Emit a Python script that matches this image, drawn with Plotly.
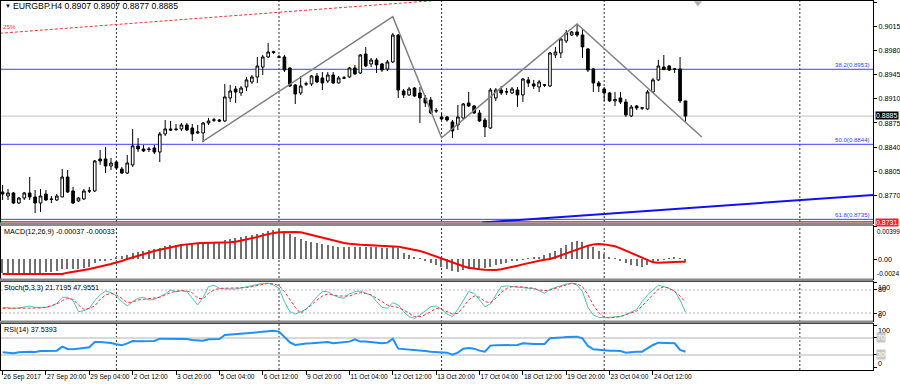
import plotly.graph_objects as go

W, H = 900, 384

symbol = "EURGBP.H4"

open_ = [0.87747,0.87689,0.87733,0.87587,0.87660,0.87733,0.87675,0.87587,0.87718,0.87646,
0.87631,0.87675,0.87965,0.87762,0.87617,0.87646,0.87760,0.87762,0.88227,0.88227,
0.88125,0.88183,0.88081,0.88023,0.88140,0.88416,0.88372,0.88365,0.88387,0.88328,
0.88590,0.88663,0.88655,0.88663,0.88721,0.88677,0.88605,0.88605,0.88750,0.88790,
0.88793,0.88779,0.89113,0.89244,0.89186,0.89273,0.89346,0.89418,0.89563,0.89709,
0.89785,0.89712,0.89709,0.89549,0.89302,0.89186,0.89320,0.89317,0.89433,0.89404,
0.89360,0.89447,0.89331,0.89400,0.89418,0.89549,0.89476,0.89752,0.89607,0.89665,
0.89607,0.89534,0.89636,0.90028,0.89215,0.89157,0.89258,0.89186,0.89113,0.89084,
0.88930,0.88837,0.88837,0.88764,0.88721,0.88822,0.89041,0.88997,0.88895,0.88793,
0.88677,0.89113,0.89229,0.89205,0.89186,0.89229,0.89157,0.89375,0.89317,0.89273,
0.89305,0.89287,0.89738,0.89767,0.89941,0.90028,0.90072,0.90028,0.89825,0.89534,
0.89331,0.89244,0.89186,0.89070,0.89113,0.89055,0.88852,0.88997,0.88965,0.88953,
0.89200,0.89375,0.89563,0.89578,0.89530,0.89534,0.8907]
high = [0.87849,0.87791,0.87747,0.87675,0.87747,0.87965,0.87776,0.87791,0.87776,0.87689,
0.87718,0.88081,0.88067,0.87820,0.87675,0.87791,0.87820,0.88212,0.88358,0.88401,
0.88241,0.88198,0.88111,0.88285,0.88663,0.88532,0.88430,0.88401,0.88430,0.88619,
0.88793,0.88779,0.88735,0.88750,0.88750,0.88735,0.88721,0.88764,0.88822,0.88822,
0.88808,0.89317,0.89302,0.89287,0.89287,0.89418,0.89447,0.89709,0.89738,0.89912,
0.89800,0.89738,0.89738,0.89555,0.89317,0.89433,0.89350,0.89447,0.89476,0.89491,
0.89491,0.89491,0.89433,0.89433,0.89563,0.89593,0.89752,0.89854,0.89694,0.89694,
0.89622,0.89665,0.90058,0.90043,0.89244,0.89273,0.89273,0.89273,0.89157,0.89128,
0.88968,0.88895,0.88852,0.88793,0.89011,0.89041,0.89200,0.89011,0.88939,0.88822,
0.89258,0.89258,0.89287,0.89258,0.89273,0.89273,0.89404,0.89418,0.89375,0.89375,
0.89317,0.89781,0.89854,0.89985,0.90101,0.90087,0.90188,0.90116,0.89840,0.89549,
0.89360,0.89273,0.89200,0.89200,0.89200,0.89099,0.89011,0.89011,0.88982,0.89229,
0.89404,0.89665,0.89738,0.89593,0.89549,0.89709,0.8907]
low = [0.87631,0.87631,0.87573,0.87573,0.87631,0.87631,0.87442,0.87457,0.87617,0.87587,
0.87617,0.87670,0.87733,0.87573,0.87602,0.87631,0.87733,0.87747,0.88140,0.88023,
0.88067,0.88067,0.88009,0.88009,0.88111,0.88328,0.88328,0.88328,0.88299,0.88183,
0.88561,0.88634,0.88634,0.88634,0.88634,0.88488,0.88590,0.88474,0.88721,0.88764,
0.88764,0.88764,0.89055,0.89041,0.89142,0.89215,0.89317,0.89331,0.89447,0.89694,
0.89752,0.89690,0.89491,0.89273,0.89026,0.89157,0.89287,0.89287,0.89331,0.89229,
0.89331,0.89317,0.89324,0.89389,0.89404,0.89447,0.89462,0.89563,0.89563,0.89476,
0.89491,0.89505,0.89622,0.89113,0.89113,0.89142,0.89128,0.88750,0.88982,0.88881,
0.88895,0.88793,0.88769,0.88532,0.88648,0.88793,0.88982,0.88881,0.88764,0.88546,
0.88663,0.89070,0.89157,0.89157,0.89171,0.88982,0.89055,0.89273,0.89244,0.89200,
0.89273,0.89273,0.89694,0.89694,0.89912,0.90014,0.90000,0.89694,0.89491,0.89200,
0.89200,0.89070,0.89055,0.88997,0.89026,0.88837,0.88837,0.88939,0.88939,0.88939,
0.89186,0.89360,0.89520,0.89505,0.89476,0.89041,0.8877]
close = [0.87718,0.87733,0.87587,0.87660,0.87733,0.87675,0.87587,0.87689,0.87631,0.87640,
0.87689,0.87965,0.87747,0.87587,0.87660,0.87762,0.87765,0.88198,0.88198,0.88125,
0.88169,0.88096,0.88023,0.88169,0.88416,0.88372,0.88343,0.88370,0.88328,0.88590,
0.88663,0.88648,0.88660,0.88721,0.88648,0.88590,0.88619,0.88750,0.88779,0.88795,
0.88779,0.89128,0.89215,0.89200,0.89258,0.89375,0.89418,0.89578,0.89709,0.89781,
0.89775,0.89705,0.89520,0.89287,0.89171,0.89287,0.89315,0.89433,0.89346,0.89331,
0.89447,0.89331,0.89404,0.89406,0.89549,0.89462,0.89738,0.89578,0.89665,0.89593,
0.89520,0.89636,0.90028,0.89229,0.89157,0.89244,0.89142,0.89113,0.89041,0.88895,
0.88925,0.88808,0.88793,0.88634,0.88837,0.89026,0.88997,0.88895,0.88779,0.88692,
0.89229,0.89229,0.89186,0.89200,0.89244,0.89157,0.89389,0.89331,0.89287,0.89346,
0.89300,0.89767,0.89781,0.89970,0.90058,0.90072,0.90028,0.89854,0.89520,0.89331,
0.89287,0.89186,0.89070,0.89092,0.89055,0.88866,0.88982,0.88968,0.88970,0.89200,
0.89375,0.89578,0.89525,0.89520,0.89535,0.89070,0.8885]

macd_main = [-0.00176,-0.00176,-0.00180,-0.00180,-0.00176,-0.00168,-0.00172,-0.00168,-0.00160,-0.00156,
-0.00148,-0.00127,-0.00123,-0.00127,-0.00119,-0.00107,-0.00094,-0.00053,-0.00029,-0.00016,
-0.00004,0.00016,0.00037,0.00049,0.00078,0.00090,0.00103,0.00111,0.00119,0.00135,
0.00156,0.00168,0.00176,0.00180,0.00185,0.00185,0.00185,0.00193,0.00201,0.00205,
0.00213,0.00234,0.00250,0.00262,0.00275,0.00283,0.00295,0.00308,0.00324,0.00344,
0.00361,0.00369,0.00344,0.00308,0.00267,0.00242,0.00226,0.00209,0.00193,0.00185,
0.00172,0.00160,0.00152,0.00148,0.00144,0.00144,0.00148,0.00152,0.00148,0.00144,
0.00139,0.00139,0.00152,0.00131,0.00078,0.00049,0.00021,0.00002,-0.00029,-0.00045,
-0.00074,-0.00094,-0.00119,-0.00144,-0.00156,-0.00135,-0.00127,-0.00123,-0.00119,-0.00115,
-0.00094,-0.00078,-0.00062,-0.00045,-0.00029,-0.00016,-0.00004,0.00008,0.00021,0.00029,
0.00045,0.00070,0.00098,0.00135,0.00176,0.00209,0.00226,0.00209,0.00176,0.00144,
0.00103,0.00062,0.00021,0.00001,-0.00029,-0.00045,-0.00070,-0.00086,-0.00094,-0.00078,
-0.00053,-0.00021,-0.00004,0.00008,0.00016,0.00001,-0.00037]
macd_signal = [-0.00185,-0.00185,-0.00185,-0.00189,-0.00189,-0.00189,-0.00189,-0.00189,-0.00189,-0.00189,
-0.00189,-0.00185,-0.00168,-0.00160,-0.00148,-0.00135,-0.00123,-0.00111,-0.00094,-0.00078,
-0.00062,-0.00045,-0.00025,0.00000,0.00021,0.00041,0.00062,0.00082,0.00098,0.00115,
0.00131,0.00144,0.00160,0.00172,0.00180,0.00189,0.00193,0.00197,0.00197,0.00201,
0.00201,0.00205,0.00205,0.00213,0.00226,0.00238,0.00254,0.00271,0.00291,0.00308,
0.00320,0.00328,0.00332,0.00332,0.00332,0.00328,0.00312,0.00291,0.00275,0.00258,
0.00242,0.00230,0.00209,0.00197,0.00189,0.00180,0.00176,0.00172,0.00168,0.00168,
0.00164,0.00160,0.00156,0.00152,0.00139,0.00127,0.00119,0.00098,0.00078,0.00053,
0.00029,0.00008,-0.00016,-0.00041,-0.00066,-0.00090,-0.00107,-0.00119,-0.00127,-0.00131,
-0.00135,-0.00135,-0.00127,-0.00115,-0.00098,-0.00082,-0.00066,-0.00049,-0.00037,-0.00021,
-0.00008,0.00000,0.00021,0.00045,0.00070,0.00094,0.00119,0.00144,0.00164,0.00180,
0.00185,0.00180,0.00172,0.00156,0.00131,0.00103,0.00074,0.00045,0.00012,-0.00012,
-0.00041,-0.00045,-0.00045,-0.00041,-0.00037,-0.00035,-0.00033]

stoch_k = [34.8,33.0,32.2,33.0,36.5,38.3,34.8,34.8,34.8,38.3,
45.2,60.9,60.9,52.2,23.5,26.1,32.2,52.2,67.0,77.4,
73.0,64.3,49.6,38.3,49.6,58.3,60.9,53.9,55.7,62.6,
69.6,80.0,75.7,78.3,75.7,58.3,40.9,60.9,88.7,92.2,
84.3,82.6,82.6,82.6,85.2,88.7,91.3,94.8,97.4,97.4,
93.0,84.3,49.6,23.5,17.4,23.5,29.6,45.2,62.6,75.7,
75.7,67.0,60.9,58.3,69.6,75.7,77.4,71.3,67.0,49.6,
34.8,32.2,47.0,40.9,23.5,10.4,6.1,14.8,26.1,36.5,
38.3,29.6,17.4,10.4,29.6,53.9,75.7,71.3,53.9,36.5,
43.5,67.0,88.7,90.4,89.6,88.7,86.1,84.3,84.3,78.3,
71.3,81.7,87.0,92.2,95.7,97.4,93.0,75.7,34.8,14.8,
8.7,7.8,8.7,9.6,11.3,15.7,22.6,29.6,49.6,67.0,
80.0,92.2,88.7,84.3,77.4,53.9,21.7195]
stoch_d = [32.2,32.2,31.3,31.3,32.2,32.2,32.2,33.0,34.8,38.3,
43.5,52.2,58.3,55.7,40.9,29.6,32.2,38.3,55.7,67.0,
71.3,67.0,58.3,47.0,48.7,53.9,55.7,55.7,57.4,60.9,
67.0,73.0,76.5,78.3,77.4,73.0,58.3,57.4,71.3,80.0,
84.3,84.3,84.3,84.3,84.3,86.1,88.7,92.2,95.7,97.4,
95.7,91.3,75.7,53.9,34.8,19.1,29.6,40.9,53.9,64.3,
69.6,67.0,64.3,64.3,64.3,69.6,73.0,71.3,67.0,58.3,
49.6,40.9,36.5,34.8,27.8,19.1,10.4,10.4,15.7,23.5,
32.2,29.6,23.5,17.4,19.1,34.8,53.9,64.3,60.9,49.6,
47.0,58.3,73.0,84.3,88.7,88.7,87.8,86.1,84.3,80.0,
78.3,80.0,84.3,90.4,94.8,97.4,95.7,88.7,67.0,40.9,
20.9,8.7,7.0,8.7,10.4,15.7,20.0,25.2,38.3,53.9,
69.6,82.6,88.7,84.3,75.7,64.3,47.9551]

rsi = [36.3,35.5,33.9,36.3,37.8,37.8,37.1,39.4,39.4,40.2,
40.2,49.6,44.1,43.3,44.1,46.5,48.0,60.6,60.6,59.8,
58.2,55.1,52.7,57.4,62.9,62.1,62.1,62.1,62.9,68.4,
68.4,68.4,68.4,68.4,67.6,65.3,63.7,63.7,66.8,66.8,
67.6,77.0,77.8,78.6,79.4,80.2,81.7,83.3,84.9,86.4,
87.2,84.9,73.1,59.8,53.5,55.9,56.7,57.4,58.2,59.8,
60.6,57.4,59.0,60.6,61.4,66.8,61.4,61.4,60.6,59.0,
57.4,59.0,68.4,44.9,44.1,43.3,42.5,41.8,39.4,37.8,
37.1,36.3,35.5,30.8,35.5,44.9,46.5,44.9,40.2,37.8,
52.0,52.7,52.7,52.7,53.5,53.5,57.4,55.9,55.9,55.9,
55.9,69.2,69.2,70.8,72.3,73.1,73.1,69.2,51.2,43.3,
41.8,41.0,40.2,40.2,39.4,35.5,37.1,37.8,37.8,45.7,
53.5,59.0,58.2,58.2,57.4,41.8,37.5393]

x_tick_idx = [0, 8, 16, 24, 32, 40, 48, 56, 64, 72, 80, 88, 96, 104, 112, 120]
x_tick_text = ["26 Sep 2017", "27 Sep 20:00", "29 Sep 04:00", "2 Oct 12:00", "3 Oct 20:00",
               "5 Oct 04:00", "6 Oct 12:00", "9 Oct 20:00", "11 Oct 04:00", "12 Oct 12:00",
               "13 Oct 20:00", "17 Oct 04:00", "18 Oct 12:00", "19 Oct 20:00", "23 Oct 04:00",
               "24 Oct 12:00"]
price_ticks = [0.9050, 0.9015, 0.8980, 0.8945, 0.8910, 0.8875, 0.8840, 0.8805, 0.8770]

fib_levels = ["38.2", "50.0", "61.8"]
fib_prices = [0.8953, 0.8844, 0.8735]
separator_idx = [21, 51, 81, 111, 147.1]
zigzag_idx = [36.8, 72.0, 81.0, 106.0, 129.0]
zigzag_price = [0.88474, 0.90294, 0.88536, 0.90188, 0.88546]
trend_idx = [88.5, 160.6]
trend_price = [0.87304, 0.87704]
fan_idx = [-0.5, 80.0]
fan_price = [0.90053, 0.90530]
fan_label = "25%"
red_hline = 0.8731
bid_price = 0.8885
shift_marker = (128.3, 0.90493)

# ---------------- layout geometry (pixels) ----------------
def px_x(p):
    return p / W

def px_y(p):
    return 1 - p / H

X0, X1 = 1, 873
xr = [-0.295, 160.6]
dom_main = [px_y(222.5), px_y(1)]
dom_macd = [px_y(278.5), px_y(226)]
dom_stoch = [px_y(320.5), px_y(281.5)]
dom_rsi = [px_y(370), px_y(323.5)]

FONT = "Liberation Sans, Arial, sans-serif"
n = len(close)
xs = list(range(n))

fig = go.Figure()

fig.add_trace(go.Candlestick(
    x=xs, open=open_, high=high, low=low, close=close,
    xaxis="x", yaxis="y",
    increasing=dict(line=dict(color="black", width=1), fillcolor="white"),
    decreasing=dict(line=dict(color="black", width=1), fillcolor="black"),
    whiskerwidth=0, showlegend=False, hoverinfo="skip"))

fig.add_trace(go.Scatter(x=zigzag_idx, y=zigzag_price, mode="lines",
                         line=dict(color="#808080", width=1.5), xaxis="x", yaxis="y",
                         showlegend=False, hoverinfo="skip"))
fig.add_trace(go.Scatter(x=trend_idx, y=trend_price, mode="lines",
                         line=dict(color="#1010ff", width=2), xaxis="x", yaxis="y",
                         showlegend=False, hoverinfo="skip"))
fig.add_trace(go.Scatter(x=fan_idx, y=fan_price, mode="lines",
                         line=dict(color="#ff3030", width=1, dash="3px,2px"), xaxis="x", yaxis="y",
                         showlegend=False, hoverinfo="skip"))
fig.add_trace(go.Scatter(x=[shift_marker[0]], y=[shift_marker[1]], mode="markers",
                         marker=dict(symbol="triangle-down", size=7, color="#b0b0b0"),
                         xaxis="x", yaxis="y", showlegend=False, hoverinfo="skip", cliponaxis=False))

fig.add_trace(go.Bar(x=xs, y=macd_main, marker=dict(color="#707070", line=dict(width=0)),
                     width=0.24, xaxis="x2", yaxis="y2", showlegend=False, hoverinfo="skip"))
fig.add_trace(go.Scatter(x=xs, y=macd_signal, mode="lines", line=dict(color="#ff0000", width=2),
                         xaxis="x2", yaxis="y2", showlegend=False, hoverinfo="skip"))

fig.add_trace(go.Scatter(x=xs, y=stoch_k, mode="lines", line=dict(color="#48c4bc", width=1),
                         xaxis="x3", yaxis="y3", showlegend=False, hoverinfo="skip"))
fig.add_trace(go.Scatter(x=xs, y=stoch_d, mode="lines", line=dict(color="#ff3030", width=1, dash="3px,2px"),
                         xaxis="x3", yaxis="y3", showlegend=False, hoverinfo="skip"))

fig.add_trace(go.Scatter(x=xs, y=rsi, mode="lines", line=dict(color="#1e90ff", width=2),
                         xaxis="x4", yaxis="y4", showlegend=False, hoverinfo="skip"))

shapes = []
for p in fib_prices:
    shapes.append(dict(type="line", xref="x", yref="y", x0=xr[0], x1=xr[1], y0=p, y1=p,
                       line=dict(color="#3c3cff", width=1), layer="below"))
shapes.append(dict(type="line", xref="x", yref="y", x0=xr[0], x1=xr[1], y0=bid_price, y1=bid_price,
                   line=dict(color="#c0c0c0", width=1), layer="below"))
shapes.append(dict(type="line", xref="x", yref="y", x0=xr[0], x1=xr[1], y0=red_hline, y1=red_hline,
                   line=dict(color="#ff0000", width=1.5), layer="below"))
for lv in (80, 20):
    shapes.append(dict(type="line", xref="x3", yref="y3", x0=xr[0], x1=xr[1], y0=lv, y1=lv,
                       line=dict(color="#b4b4b4", width=1, dash="2px,2px"), layer="below"))
for lv in (70, 30):
    shapes.append(dict(type="line", xref="x4", yref="y4", x0=xr[0], x1=xr[1], y0=lv, y1=lv,
                       line=dict(color="#cccccc", width=1.5), layer="below"))
for s in separator_idx:
    shapes.append(dict(type="line", xref="x", yref="paper", x0=s, x1=s, y0=dom_rsi[0], y1=dom_main[1],
                       line=dict(color="#303030", width=1, dash="2px,2px"), layer="below"))
for a, b in ((222.5, 226), (278.5, 281.5), (320.5, 323.5)):
    shapes.append(dict(type="rect", xref="paper", yref="paper", x0=0, x1=px_x(X1), y0=px_y(b), y1=px_y(a),
                       fillcolor="#8a8a8a", line=dict(width=0), layer="above"))

ann = []
fs_axis = 7.2
fs_title = 8.7
fs_sub = 7.2
fs_fib = 6.1
ann.append(dict(xref="paper", yref="paper", x=px_x(3), y=px_y(6), text="▼", showarrow=False,
                xanchor="left", yanchor="middle", font=dict(size=6, color="black", family=FONT)))
ann.append(dict(xref="paper", yref="paper", x=px_x(11), y=px_y(6),
                text=f"{symbol} {open_[-1]:.4f} {high[-1]:.4f} {low[-1]:.4f} {close[-1]:.4f}",
                showarrow=False, xanchor="left", yanchor="middle", font=dict(size=fs_title, color="black", family=FONT)))
ann.append(dict(xref="paper", yref="paper", x=px_x(2), y=px_y(231),
                text=f"MACD(12,26,9) {macd_main[-1]:.5f} {macd_signal[-1]:.5f}",
                showarrow=False, xanchor="left", yanchor="middle", font=dict(size=fs_sub, color="black", family=FONT)))
ann.append(dict(xref="paper", yref="paper", x=px_x(2), y=px_y(287),
                text=f"Stoch(5,3,3) {stoch_k[-1]:.4f} {stoch_d[-1]:.4f}",
                showarrow=False, xanchor="left", yanchor="middle", font=dict(size=fs_sub, color="black", family=FONT)))
ann.append(dict(xref="paper", yref="paper", x=px_x(2), y=px_y(329),
                text=f"RSI(14) {rsi[-1]:.4f}",
                showarrow=False, xanchor="left", yanchor="middle", font=dict(size=fs_sub, color="black", family=FONT)))
ann.append(dict(xref="paper", yref="paper", x=px_x(1), y=px_y(26), text=fan_label, showarrow=False,
                xanchor="left", yanchor="middle", font=dict(size=6.2, color="#ff3030", family=FONT)))
for lvl, p in zip(fib_levels, fib_prices):
    ann.append(dict(xref="paper", yref="y", x=px_x(872), y=p, text=f"{lvl}({p:.4f})", showarrow=False,
                    xanchor="right", yanchor="bottom", yshift=-1,
                    font=dict(size=fs_fib, color="#3c3cff", family=FONT)))
RX = px_x(875)
ann.append(dict(xref="paper", yref="y", x=RX, y=bid_price, text=f"{bid_price:.4f}", showarrow=False,
                xanchor="left", yanchor="middle", bgcolor="black", borderpad=0, yshift=1,
                font=dict(size=7, color="white", family=FONT)))
ann.append(dict(xref="paper", yref="y", x=RX, y=red_hline, text=f"{red_hline:.4f}", showarrow=False,
                xanchor="left", yanchor="middle", bgcolor="#ff2020", borderpad=0,
                font=dict(size=7, color="white", family=FONT)))
LX = px_x(876)
macd_rng = [-0.0024, 0.00406]
ann.append(dict(xref="paper", yref="y2", x=px_x(875), y=macd_rng[1], text="0.00399", showarrow=False,
                xanchor="left", yanchor="top", font=dict(size=6.3, color="black", family=FONT)))
ann.append(dict(xref="paper", yref="y2", x=LX, y=0, text="0.00", showarrow=False,
                xanchor="left", yanchor="middle", font=dict(size=fs_axis, color="black", family=FONT)))
ann.append(dict(xref="paper", yref="y2", x=px_x(875), y=macd_rng[0], text="-0.0024", showarrow=False,
                xanchor="left", yanchor="bottom", font=dict(size=6.5, color="black", family=FONT)))
stoch_rng = [0.5, 102.1]
ann.append(dict(xref="paper", yref="y3", x=LX, y=stoch_rng[1], text="100", showarrow=False,
                xanchor="left", yanchor="top", yshift=1, font=dict(size=fs_axis, color="black", family=FONT)))
ann.append(dict(xref="paper", yref="y3", x=LX, y=80, text="80", showarrow=False,
                xanchor="left", yanchor="middle", font=dict(size=fs_axis, color="black", family=FONT)))
ann.append(dict(xref="paper", yref="y3", x=LX, y=20, text="20", showarrow=False,
                xanchor="left", yanchor="middle", font=dict(size=fs_axis, color="black", family=FONT)))
ann.append(dict(xref="paper", yref="y3", x=LX, y=stoch_rng[0], text="0", showarrow=False,
                xanchor="left", yanchor="bottom", yshift=-1, font=dict(size=fs_axis, color="black", family=FONT)))
rsi_rng = [-5.3, 104]
ann.append(dict(xref="paper", yref="y4", x=LX, y=rsi_rng[1], text="100", showarrow=False,
                xanchor="left", yanchor="top", font=dict(size=fs_axis, color="black", family=FONT)))
ann.append(dict(xref="paper", yref="y4", x=LX, y=70, text="70", showarrow=False, bgcolor="#c8c8c8",
                borderpad=0, xanchor="left", yanchor="middle", font=dict(size=fs_axis, color="white", family=FONT)))
ann.append(dict(xref="paper", yref="y4", x=LX, y=30, text="30", showarrow=False, bgcolor="#c8c8c8",
                borderpad=0, xanchor="left", yanchor="middle", font=dict(size=fs_axis, color="white", family=FONT)))
ann.append(dict(xref="paper", yref="y4", x=LX, y=rsi_rng[0], text="0", showarrow=False,
                xanchor="left", yanchor="bottom", font=dict(size=fs_axis, color="black", family=FONT)))

xdom = [px_x(X0), px_x(X1)]
base_x = dict(domain=xdom, range=xr, showgrid=False, zeroline=False, showline=True, mirror=True,
              linecolor="black", linewidth=1, ticks="", showticklabels=False, fixedrange=True,
              automargin=False)
base_y = dict(showgrid=False, zeroline=False, showline=True, mirror=True, linecolor="black",
              linewidth=1, side="right", fixedrange=True, ticks="outside", ticklen=3, tickcolor="black",
              automargin=False, tickfont=dict(size=fs_axis, color="black", family=FONT))

fig.update_layout(
    template="none",
    width=W, height=H, autosize=False,
    margin=dict(l=0, r=0, t=0, b=0, pad=0),
    paper_bgcolor="white", plot_bgcolor="white",
    showlegend=False, hovermode=False, bargap=0,
    xaxis=dict(base_x, anchor="y", rangeslider=dict(visible=False)),
    xaxis2=dict(base_x, anchor="y2", matches="x"),
    xaxis3=dict(base_x, anchor="y3", matches="x"),
    xaxis4=dict(base_x, anchor="y4", matches="x", ticks="outside", ticklen=4, tickcolor="black",
                showticklabels=True, tickvals=x_tick_idx, ticktext=x_tick_text,
                tickangle=0, ticklabelposition="outside right",
                tickfont=dict(size=6.6, color="black", family=FONT)),
    yaxis=dict(base_y, domain=dom_main, anchor="x", range=[0.87304, 0.90522],
               tickvals=price_ticks, ticktext=[f"{t:.4f}" for t in price_ticks]),
    yaxis2=dict(base_y, domain=dom_macd, anchor="x2", range=macd_rng,
                tickvals=[0.00399, 0], showticklabels=False),
    yaxis3=dict(base_y, domain=dom_stoch, anchor="x3", range=stoch_rng,
                tickvals=[100, 80, 20, 0], showticklabels=False),
    yaxis4=dict(base_y, domain=dom_rsi, anchor="x4", range=rsi_rng,
                tickvals=[100, 70, 30, 0], showticklabels=False),
    shapes=shapes, annotations=ann,
)

fig.write_html("out.html", config=dict(displayModeBar=False),
               post_script="document.body.style.margin='0';document.body.style.padding='0';"
                           "document.body.style.overflow='hidden';")
